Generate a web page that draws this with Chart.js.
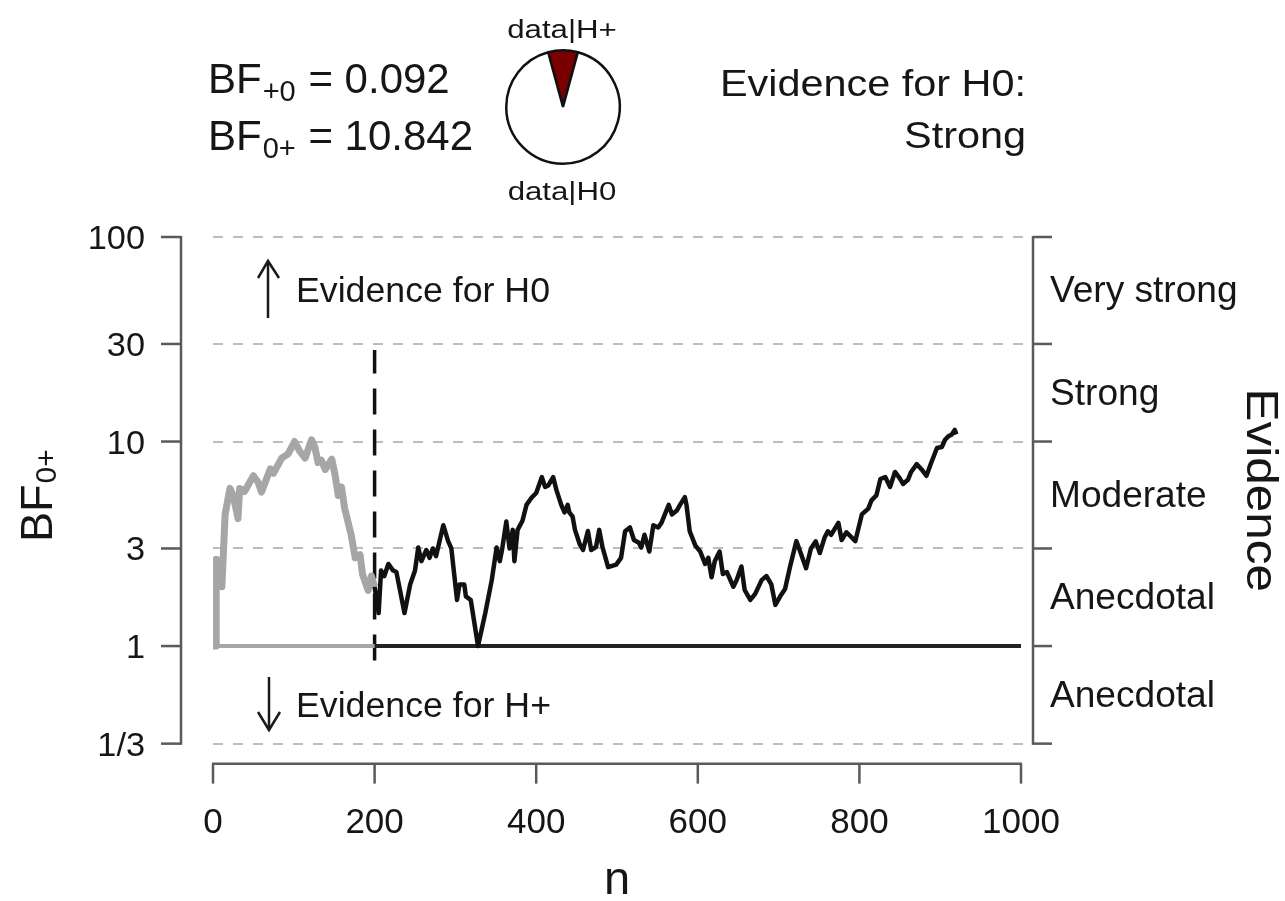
<!DOCTYPE html>
<html><head><meta charset="utf-8">
<script src="https://cdn.jsdelivr.net/npm/chart.js@4.4.1/dist/chart.umd.min.js"></script>
<style>
html,body{margin:0;padding:0;background:#fff;}
#wrap{position:relative;width:1285px;height:901px;overflow:hidden;}
#main{position:absolute;left:0;top:0;}
#pie{position:absolute;left:498px;top:42px;}
</style></head><body>
<div id="wrap"><canvas id="main" width="1285" height="901"></canvas><canvas id="pie" width="130" height="130"></canvas></div>
<script>
// ---------------- data ----------------
const grayN  = [0, 4, 4, 8, 11, 15, 21, 25, 31, 33, 39, 50, 56, 60, 71, 75, 85, 93, 101, 107, 114, 122, 126, 130, 134, 139, 147, 151, 155, 159, 163, 171, 176, 182, 185, 192, 196, 200];
const grayBF = [1, 1, 2.66, 2.6, 1.95, 4.4, 5.9, 5.45, 4.2, 5.9, 5.7, 6.8, 6.3, 5.66, 7.35, 7.0, 8.3, 8.7, 10.0, 9.0, 8.3, 10.2, 9.4, 7.9, 8.1, 7.3, 8.2, 6.9, 5.45, 6.0, 4.7, 3.5, 2.7, 2.8, 2.25, 1.87, 2.2, 1.95];

const blackN  = [200, 205, 208, 212, 217, 223, 227, 237, 244, 250, 254, 258, 264, 268, 272, 276, 285, 291, 295, 302, 305, 311, 313, 319, 328, 337, 345, 351, 355, 358, 363, 367, 371, 373, 377, 383, 388, 394, 400, 407, 411, 415, 421, 425, 431, 435, 439, 441, 445, 448, 454, 458, 464, 468, 474, 478, 482, 489, 499, 505, 510, 516, 521, 527, 530, 534, 540, 545, 551, 555, 564, 568, 574, 578, 584, 586, 590, 597, 603, 609, 613, 617, 621, 627, 631, 636, 644, 648, 654, 658, 665, 671, 679, 685, 691, 696, 702, 708, 714, 722, 728, 734, 740, 746, 751, 757, 761, 765, 774, 778, 784, 795, 803, 811, 815, 821, 826, 832, 838, 844, 850, 854, 860, 864, 871, 877, 883, 889, 896, 902, 906, 910, 914, 918, 920];
const blackBF = [1.95, 1.45, 2.34, 2.2, 2.52, 2.34, 2.3, 1.45, 2.0, 2.34, 3.03, 2.6, 2.95, 2.7, 3.0, 2.75, 3.9, 3.26, 3.0, 1.68, 2.0, 2.0, 1.75, 1.68, 1.0, 1.45, 2.1, 3.03, 2.6, 3.0, 4.06, 3.0, 3.7, 2.6, 3.7, 4.1, 4.9, 5.3, 5.6, 6.7, 6.0, 6.1, 6.7, 5.8, 4.9, 4.5, 4.9, 4.5, 4.3, 3.7, 3.14, 2.95, 3.65, 2.95, 3.05, 3.7, 3.05, 2.43, 2.5, 2.7, 3.64, 3.8, 3.3, 3.2, 3.03, 3.5, 2.9, 3.9, 3.8, 4.0, 4.9, 4.4, 4.6, 4.9, 5.35, 4.9, 3.64, 3.1, 2.9, 2.52, 2.7, 2.17, 2.6, 2.9, 2.25, 2.3, 1.95, 2.1, 2.45, 1.88, 1.68, 1.8, 2.1, 2.2, 2.0, 1.59, 1.75, 1.9, 2.43, 3.26, 2.8, 2.4, 3.0, 3.25, 2.85, 3.4, 3.64, 3.5, 4.0, 3.3, 3.6, 3.26, 4.4, 4.7, 5.16, 5.45, 6.56, 6.7, 6.0, 7.1, 6.6, 6.2, 6.5, 7.1, 7.75, 7.3, 6.8, 7.9, 9.3, 9.4, 10.2, 10.6, 10.8, 11.4, 10.84];

const refGrayN  = [0, 200];
const refBlackN = [200, 1000];
const refBF = 1;
const cutN = 200;
const cutBF = [0.85, 28];

const yTicks = [1/3, 1, 3, 10, 30, 100];
const yTickLabels = ['1/3', '1', '3', '10', '30', '100'];
const xTicks = [0, 200, 400, 600, 800, 1000];
const xTickLabels = ['0', '200', '400', '600', '800', '1000'];
const evidenceLabels = ['Anecdotal', 'Anecdotal', 'Moderate', 'Strong', 'Very strong'];

const BFp0 = '0.092';
const BF0p = '10.842';
const pieValues = [0.092, 1];
const pieLabels = ['data|H+', 'data|H0'];
const verdictLines = ['Evidence for H0:', 'Strong'];

// ---------------- helpers ----------------
const FONT = '"Liberation Sans", Arial, Helvetica, sans-serif';
const TXT = '#161616';
function drawText(ctx, s, x, y, size, o = {}) {
  ctx.save();
  ctx.translate(x, y);
  if (o.rot) ctx.rotate(o.rot);
  const sx = o.sx || 1;
  ctx.scale(sx, 1);
  ctx.font = size + 'px ' + FONT;
  ctx.fillStyle = o.color || TXT;
  ctx.textAlign = o.align || 'left';
  ctx.textBaseline = 'alphabetic';
  ctx.fillText(s, 0, 0);
  const w = ctx.measureText(s).width * sx;
  ctx.restore();
  return w;
}
function line(ctx, x1, y1, x2, y2) { ctx.beginPath(); ctx.moveTo(x1, y1); ctx.lineTo(x2, y2); ctx.stroke(); }
const pts = (xs, ys) => xs.map((v, i) => ({ x: v, y: Array.isArray(ys) ? ys[i] : ys }));

const gridPlugin = {
  id: 'grid',
  beforeDatasetsDraw(chart) {
    const { ctx, scales: { x, y } } = chart;
    ctx.save();
    ctx.strokeStyle = '#bdbdbd';
    ctx.lineWidth = 2;
    ctx.setLineDash([10, 10]);
    const x0 = x.getPixelForValue(0), x1 = x.getPixelForValue(1000) + 2;
    yTicks.forEach(v => {
      if (v === 1) return;
      const py = Math.round(y.getPixelForValue(v));
      line(ctx, x0, py, x1, py);
    });
    ctx.restore();
  }
};

const decorPlugin = {
  id: 'decor',
  afterDraw(chart) {
    const { ctx, scales: { x, y } } = chart;
    const x0 = x.getPixelForValue(0), x1 = x.getPixelForValue(1000);
    const yTop = y.getPixelForValue(100), yBot = y.getPixelForValue(1/3);
    const leftAx = x0 - 32, bottomAx = yBot + 20, rightAx = x1 + 12;
    ctx.save();
    ctx.strokeStyle = '#5a5a5a';
    ctx.lineWidth = 2.5;
    ctx.lineCap = 'butt';
    // left axis
    line(ctx, leftAx, yTop - 1, leftAx, yBot + 1);
    yTicks.forEach(v => { const py = y.getPixelForValue(v); line(ctx, leftAx - 20, py, leftAx, py); });
    // right axis
    line(ctx, rightAx, yTop - 1, rightAx, yBot + 1);
    yTicks.forEach(v => { const py = y.getPixelForValue(v); line(ctx, rightAx, py, rightAx + 19, py); });
    // bottom axis
    line(ctx, x0 - 1, bottomAx, x1 + 1, bottomAx);
    xTicks.forEach(v => { const px = x.getPixelForValue(v); line(ctx, px, bottomAx, px, bottomAx + 20); });
    ctx.restore();

    // tick labels
    yTicks.forEach((v, i) => {
      const py = y.getPixelForValue(v);
      drawText(ctx, yTickLabels[i], leftAx - 36, py + 12, 33, { align: 'right', sx: 1.04 });
    });
    xTicks.forEach((v, i) => {
      drawText(ctx, xTickLabels[i], x.getPixelForValue(v), bottomAx + 69, 35, { align: 'center' });
    });
    // evidence labels on right
    for (let i = 0; i < evidenceLabels.length; i++) {
      const mid = Math.sqrt(yTicks[i] * yTicks[i + 1]);
      const py = y.getPixelForValue(mid);
      drawText(ctx, evidenceLabels[i], rightAx + 17, py + 12, 36, { sx: 1.03 });
    }
    // axis titles
    drawText(ctx, 'n', (x0 + x1) / 2, 894, 47, { align: 'center' });
    // y title BF0+
    ctx.save();
    ctx.translate(52, 542);
    ctx.rotate(-Math.PI / 2);
    ctx.fillStyle = TXT;
    ctx.font = '45px ' + FONT;
    ctx.textAlign = 'left';
    ctx.fillText('BF', 0, 0);
    const wbf = ctx.measureText('BF').width;
    ctx.font = '30px ' + FONT;
    ctx.fillText('0+', wbf + 1, 4);
    ctx.restore();
    // right title Evidence
    drawText(ctx, 'Evidence', 1247, (yTop + yBot) / 2, 45, { rot: Math.PI / 2, align: 'center', sx: 1.1 });

    // annotations with arrows
    ctx.save();
    ctx.strokeStyle = '#1a1a1a';
    ctx.lineWidth = 2.5;
    line(ctx, 268, 318, 268, 261);
    ctx.beginPath(); ctx.moveTo(258, 278); ctx.lineTo(268, 261); ctx.lineTo(279, 278); ctx.stroke();
    line(ctx, 269, 677, 269, 730);
    ctx.beginPath(); ctx.moveTo(258, 712); ctx.lineTo(269, 730); ctx.lineTo(280, 712); ctx.stroke();
    ctx.restore();
    drawText(ctx, 'Evidence for H0', 296, 302, 35, { sx: 1.02 });
    drawText(ctx, 'Evidence for H+', 296, 717, 35, { sx: 1.02 });

    // BF text block
    let w = drawText(ctx, 'BF', 208, 93, 42);
    w += 1;
    w += drawText(ctx, '+0', 208 + w, 101, 29);
    drawText(ctx, ' = ' + BFp0, 208 + w + 1, 93, 42);
    w = drawText(ctx, 'BF', 208, 150, 42);
    w += 1;
    w += drawText(ctx, '0+', 208 + w, 158, 29);
    drawText(ctx, ' = ' + BF0p, 208 + w + 1, 150, 42);

    // pie labels
    drawText(ctx, pieLabels[0], 562, 38, 26, { align: 'center', sx: 1.2 });
    drawText(ctx, pieLabels[1], 562, 200, 26, { align: 'center', sx: 1.2 });

    // verdict
    drawText(ctx, verdictLines[0], 1026, 96, 36, { align: 'right', sx: 1.15 });
    drawText(ctx, verdictLines[1], 1026, 148, 36, { align: 'right', sx: 1.15 });
  }
};

new Chart(document.getElementById('main'), {
  type: 'line',
  data: {
    datasets: [
      { label: 'BF black', data: pts(blackN, blackBF), borderColor: '#111', borderWidth: 4.5, order: 1 },
      { label: 'BF gray', data: pts(grayN, grayBF), borderColor: '#a6a6a6', borderWidth: 7, order: 2 },
      { label: 'ref gray', data: pts(refGrayN, refBF), borderColor: '#a6a6a6', borderWidth: 4, order: 3 },
      { label: 'ref black', data: pts(refBlackN, refBF), borderColor: '#222', borderWidth: 4, order: 3 },
      { label: 'cut', data: pts([cutN, cutN], cutBF), borderColor: '#111', borderWidth: 3.5, borderDash: [26, 15], order: 4 }
    ]
  },
  options: {
    responsive: false,
    devicePixelRatio: 1,
    animation: false,
    events: [],
    layout: { padding: { left: 213, right: 264, top: 237, bottom: 148 } },
    elements: { point: { radius: 0 }, line: { tension: 0, borderJoinStyle: 'round', borderCapStyle: 'butt', fill: false } },
    plugins: { legend: { display: false }, tooltip: { enabled: false }, title: { display: false } },
    scales: {
      x: { type: 'linear', min: 0, max: 1000, display: false },
      y: { type: 'logarithmic', min: 1/3, max: 100, display: false }
    }
  },
  plugins: [gridPlugin, decorPlugin]
});

const frac = pieValues[0] / (pieValues[0] + pieValues[1]);
new Chart(document.getElementById('pie'), {
  type: 'pie',
  data: {
    labels: pieLabels,
    datasets: [{ data: pieValues, backgroundColor: ['#7a0000', '#ffffff'], borderColor: '#111', borderWidth: 2.5 }]
  },
  options: {
    responsive: false,
    devicePixelRatio: 1,
    animation: false,
    events: [],
    rotation: -frac * 180,
    layout: { padding: 7 },
    plugins: { legend: { display: false }, tooltip: { enabled: false } }
  }
});
</script>
</body></html>
